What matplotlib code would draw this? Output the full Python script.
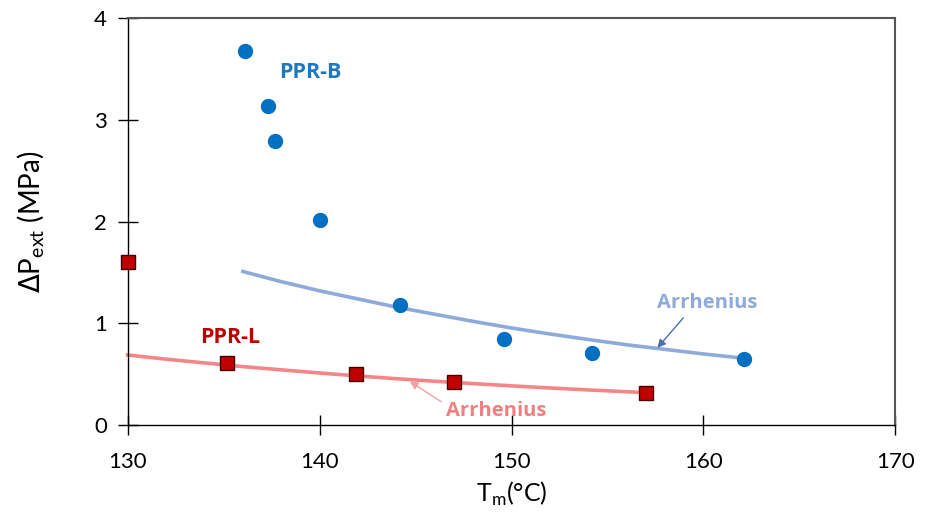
import matplotlib
matplotlib.use("Agg")
import matplotlib.pyplot as plt

# PPR-B, Messpunkte
tm_b = [136.1, 137.3, 137.7, 140.0, 144.2, 149.6, 154.2, 162.1]
dp_b = [3.67, 3.13, 2.79, 2.02, 1.18, 0.85, 0.71, 0.65]

# PPR-L, Messpunkte
tm_l = [130.0, 135.2, 141.9, 147.0, 157.0]
dp_l = [1.60, 0.61, 0.50, 0.42, 0.32]

# Arrhenius-Kurven
tm_arr_b = [136, 138, 140, 142, 144, 146, 148, 150, 152, 154, 156, 158, 160, 162]
dp_arr_b = [1.51, 1.41, 1.32, 1.24, 1.16, 1.09, 1.02, 0.955, 0.896, 0.842, 0.79, 0.745, 0.70, 0.66]

tm_arr_l = [130, 132, 134, 136, 138, 140, 142, 144, 146, 148, 150, 152, 154, 156, 157]
dp_arr_l = [0.69, 0.649, 0.612, 0.576, 0.544, 0.513, 0.484, 0.457, 0.432, 0.409, 0.387, 0.366, 0.347, 0.329, 0.32]

x_ticks = [130, 140, 150, 160, 170]
y_ticks = [0, 1, 2, 3, 4]

plt.rcParams['font.family'] = ['Lato', 'DejaVu Sans']
bold_font = ['Open Sans', 'DejaVu Sans']

fig = plt.figure(figsize=(9.25, 5.25), dpi=100)
ax = fig.add_axes([0.138, 0.19, 0.83, 0.776])

ax.plot(tm_arr_b, dp_arr_b, color='#8eaadb', lw=2.6, zorder=2, clip_on=False)
ax.plot(tm_arr_l, dp_arr_l, color='#f4868a', lw=2.6, zorder=2, clip_on=False)

ax.plot(tm_b, dp_b, 'o', color='#0070c0', ms=10, zorder=3, clip_on=False)
ax.plot(tm_l, dp_l, 's', color='#c00000', mec='#400000', mew=1, ms=10,
        zorder=3, clip_on=False)

ax.set_xlim(130, 170)
ax.set_ylim(0, 4)
ax.set_xticks(x_ticks)
ax.set_yticks(y_ticks)
ax.tick_params(direction='inout', length=14, width=1, labelsize=16,
               color='black', pad=8)
ax.tick_params(axis='x', pad=12)

for side in ['top', 'right']:
    ax.spines[side].set_color('#555555')
    ax.spines[side].set_linewidth(1.5)
for side in ['left', 'bottom']:
    ax.spines[side].set_color('black')
    ax.spines[side].set_linewidth(1)

ax.set_xlabel(r'T$_\mathregular{m}$(°C)', fontsize=18, labelpad=6)
ax.set_ylabel(r'$\Delta$P$_\mathregular{ext}$ (MPa)', fontsize=20, labelpad=34)

# Beschriftungen
ax.text(137.9, 3.46, 'PPR-B', color='#1f77c0', fontsize=15.5,
        fontweight='bold', family=bold_font, va='center')
ax.text(133.75, 0.86, 'PPR-L', color='#c00000', fontsize=15.5,
        fontweight='bold', family=bold_font, va='center')

ax.annotate('Arrhenius', xy=(157.6, 0.76), xytext=(157.6, 1.20),
            color='#8eaadb', fontsize=14.5, fontweight='bold',
            family=bold_font, ha='left', va='center',
            arrowprops=dict(arrowstyle='-|>', color='#4a6fb0', lw=1,
                            shrinkA=2, shrinkB=0, mutation_scale=12,
                            relpos=(0.3, 0.0)))
ax.annotate('Arrhenius', xy=(144.7, 0.43), xytext=(146.6, 0.14),
            color='#f08080', fontsize=14.5, fontweight='bold',
            family=bold_font, ha='left', va='center',
            arrowprops=dict(arrowstyle='-|>', color='#f4a0a0', lw=1,
                            shrinkA=2, shrinkB=0, mutation_scale=12,
                            relpos=(0.0, 0.8)))

fig.savefig('out.png', dpi=100)
